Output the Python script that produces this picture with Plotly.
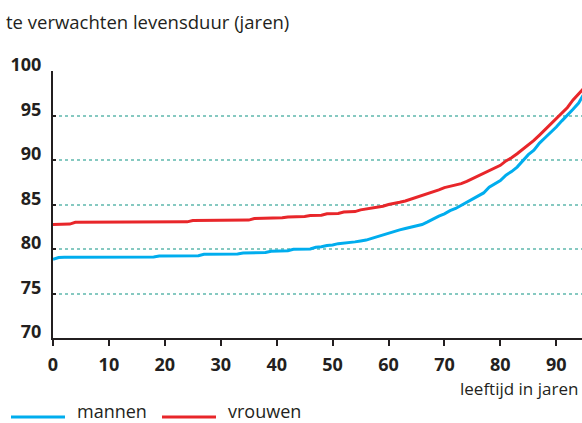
import plotly.graph_objects as go

ages = list(range(0, 96))

mannen = [
    78.85, 79.05, 79.07, 79.07, 79.07, 79.07, 79.07, 79.07, 79.07, 79.07,
    79.07, 79.07, 79.07, 79.07, 79.07, 79.07, 79.07, 79.07, 79.1, 79.2,
    79.2, 79.2, 79.2, 79.2, 79.2, 79.2, 79.25, 79.4, 79.4, 79.4,
    79.4, 79.4, 79.4, 79.45, 79.55, 79.55, 79.55, 79.55, 79.6, 79.74,
    79.74, 79.74, 79.8, 79.96, 79.96, 79.96, 80.0, 80.19, 80.25, 80.4,
    80.45, 80.6, 80.65, 80.72, 80.8, 80.9, 81.0, 81.2, 81.4, 81.6,
    81.75, 81.95, 82.15, 82.3, 82.45, 82.6, 82.75, 83.05, 83.4, 83.7,
    83.95, 84.3, 84.55, 84.9, 85.2, 85.6, 85.95, 86.3, 86.95, 87.3,
    87.7, 88.3, 88.7, 89.2, 89.9, 90.6, 91.1, 91.9, 92.5, 93.05,
    93.7, 94.4, 95.0, 95.7, 96.4, 97.5,
]

vrouwen = [
    82.76, 82.76, 82.76, 82.8, 83.0, 83.0, 83.0, 83.0, 83.0, 83.0,
    83.0, 83.0, 83.0, 83.0, 83.0, 83.0, 83.0, 83.0, 83.0, 83.0,
    83.0, 83.0, 83.0, 83.0, 83.05, 83.2, 83.2, 83.2, 83.2, 83.2,
    83.2, 83.2, 83.2, 83.2, 83.2, 83.25, 83.43, 83.43, 83.43, 83.43,
    83.43, 83.5, 83.6, 83.6, 83.6, 83.65, 83.77, 83.77, 83.8, 83.95,
    83.95, 84.0, 84.15, 84.15, 84.2, 84.4, 84.5, 84.6, 84.7, 84.8,
    85.0, 85.1, 85.25, 85.4, 85.6, 85.8, 86.0, 86.2, 86.4, 86.65,
    86.9, 87.05, 87.15, 87.35, 87.6, 87.9, 88.2, 88.45, 88.75, 89.1,
    89.4, 89.9, 90.25, 90.7, 91.2, 91.65, 92.2, 92.8, 93.4, 94.05,
    94.6, 95.3, 95.9, 96.75, 97.4, 98.1,
]

series_names = ["mannen", "vrouwen"]
x_ticks = [0, 10, 20, 30, 40, 50, 60, 70, 80, 90]
y_ticks = [70, 75, 80, 85, 90, 95, 100]

BLUE = "#00adee"
RED = "#e8262a"
TXT = "#231f20"
FONT = "Open Sans"

W, H = 582, 423
ML, MR, MT, MB = 53, 0, 71, 85
PW, PH = W - ML - MR, H - MT - MB


def px_x(px):
    return (px - ML) / PW


def px_y(py):
    return (H - MB - py) / PH


fig = go.Figure()
fig.add_trace(go.Scatter(x=ages, y=mannen, mode="lines", name=series_names[0],
                         line=dict(color=BLUE, width=3), showlegend=False))
fig.add_trace(go.Scatter(x=ages, y=vrouwen, mode="lines", name=series_names[1],
                         line=dict(color=RED, width=3), showlegend=False))

# legend drawn manually (line sample + label)
shapes = []
annotations = []
for name, color, x0 in [(series_names[0], BLUE, 11), (series_names[1], RED, 162)]:
    shapes.append(dict(type="line", xref="paper", yref="paper",
                       x0=px_x(x0), x1=px_x(x0 + 54), y0=px_y(417), y1=px_y(417),
                       line=dict(color=color, width=3)))
    annotations.append(dict(text=name, xref="paper", yref="paper",
                            x=px_x(x0 + 64), y=px_y(411), xanchor="left", yanchor="middle",
                            showarrow=False, font=dict(size=18, color=TXT, family=FONT)))

annotations.append(dict(text="leeftijd in jaren", xref="paper", yref="paper",
                        x=px_x(580), y=px_y(388), xanchor="right", yanchor="middle",
                        showarrow=False, font=dict(size=17, color=TXT, family=FONT)))

fig.update_layout(
    width=W, height=H,
    margin=dict(l=ML, r=MR, t=MT, b=MB, autoexpand=False),
    paper_bgcolor="white", plot_bgcolor="white",
    font=dict(family=FONT, color=TXT, size=17),
    title=dict(text="te verwachten levensduur (jaren)", x=6 / W, xanchor="left",
               y=1 - 23 / H, yanchor="middle", yref="container", xref="container",
               pad=dict(l=0, r=0, t=0, b=0),
               font=dict(size=18.5, color=TXT, family=FONT)),
    showlegend=False,
    xaxis=dict(range=[0, 94.6], tickvals=x_ticks, showgrid=False, zeroline=False,
               showline=True, linecolor=TXT, linewidth=2, automargin=False,
               ticks="outside", ticklen=6, tickwidth=2, tickcolor=TXT,
               ticklabelstandoff=3,
               tickfont=dict(size=18, family=FONT, weight="bold", color=TXT),
               fixedrange=True),
    yaxis=dict(range=[70, 100], tickvals=y_ticks, showgrid=True, gridcolor="#86c9c1",
               griddash="dot", gridwidth=1.5, zeroline=False, automargin=False,
               showline=True, linecolor=TXT, linewidth=2,
               ticks="inside", ticklen=3, tickwidth=2, tickcolor=TXT,
               ticklabelstandoff=6, ticklabelshift=-6,
               tickfont=dict(size=18, family=FONT, weight="bold", color=TXT),
               fixedrange=True),
    shapes=shapes,
    annotations=annotations,
)

fig.write_html("out.html", config={"displayModeBar": False},
               post_script="document.body.style.margin='0';")
